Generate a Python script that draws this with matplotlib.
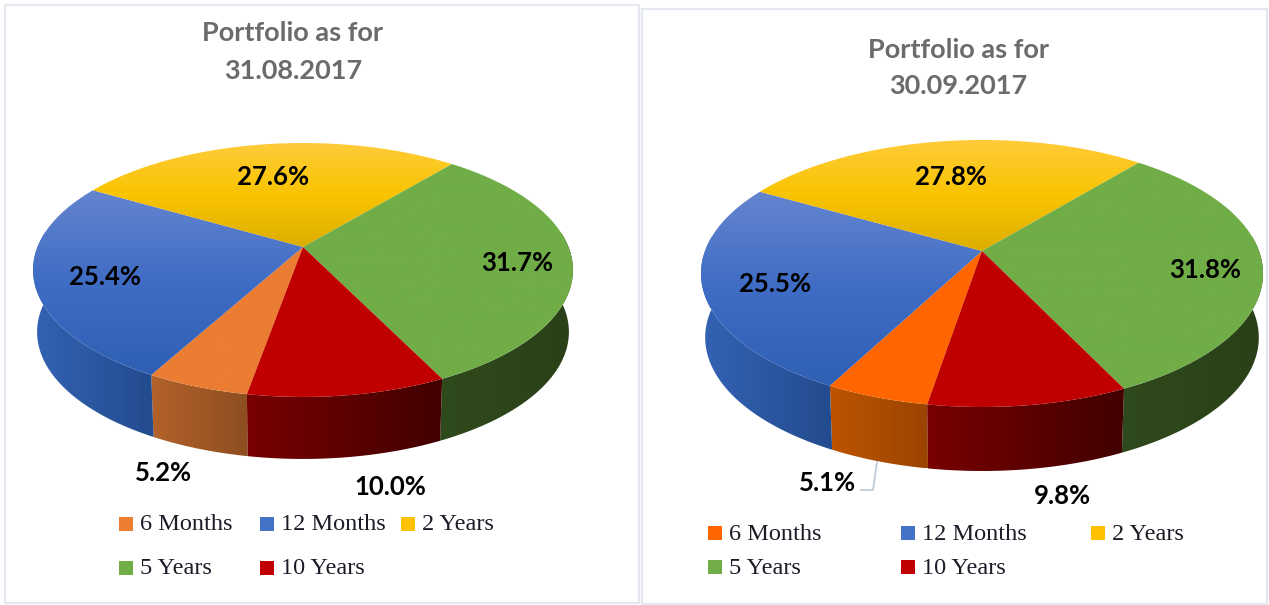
import numpy as np
from matplotlib import pyplot as plt
from matplotlib.patches import Polygon, Rectangle
from matplotlib.colors import LinearSegmentedColormap

categories = ['6 Months', '12 Months', '2 Years', '5 Years', '10 Years']
values_aug = [5.2, 25.4, 27.6, 31.7, 10.0]
values_sep = [5.1, 25.5, 27.8, 31.8, 9.8]
title_aug = 'Portfolio as for\n31.08.2017'
title_sep = 'Portfolio as for\n30.09.2017'

legend_colors_aug = ['#ED7D31', '#4472C4', '#FFC000', '#70AD47', '#C00000']
legend_colors_sep = ['#FF6600', '#4472C4', '#FFC000', '#70AD47', '#C00000']

# top face gradients, top of the slice to the bottom
top_blue = ['#6485CF', '#3F6CC4', '#2F60B4']
top_yellow = ['#FFCB3A', '#F9C400', '#DDAE00']
top_green = ['#70AD47', '#70AD47']
top_red = ['#C00000', '#C00000']

# side gradients, left to right
side_blue = ['#3463B4', '#234B8E']
side_red = ['#780000', '#420000']
side_green = ['#2F4A1C', '#2A4018']

fig = plt.figure(figsize=(12.69, 6.05), dpi=100)
ax = fig.add_axes([0, 0, 1, 1])
ax.set_xlim(0, 1269)
ax.set_ylim(605, 0)
ax.axis('off')


def project(t, cx, cy, a, b, k):
    # circle seen in perspective, the far edge is smaller
    X, Y = np.cos(t), np.sin(t)
    w = 1 + k * Y
    return cx + a * X / w, cy - b * Y / w


def gradient(poly, colors, horizontal):
    cmap = LinearSegmentedColormap.from_list('g', colors)
    g = np.linspace(0, 1, 256)
    g = g.reshape(1, -1) if horizontal else g.reshape(-1, 1)
    extent = (poly[:, 0].min(), poly[:, 0].max(), poly[:, 1].max(), poly[:, 1].min())
    im = ax.imshow(g, cmap=cmap, extent=extent, aspect='auto', zorder=2, vmin=0, vmax=1)
    patch = Polygon(poly, closed=True, transform=ax.transData, fc='none', ec='none')
    ax.add_patch(patch)
    im.set_clip_path(patch)


def pie3d(values, start, cx, cy, a, b, k, depth, orange_top, orange_side):
    tops = [[orange_top] * 2, top_blue, top_yellow, top_green, top_red]
    sides = [orange_side, side_blue, None, side_green, side_red]
    total = sum(values)
    edges = np.radians(start - np.cumsum([0] + values) * 360.0 / total)
    for i in range(len(values)):
        t = np.linspace(edges[i], edges[i + 1], 200)
        if sides[i] is not None:
            front = t[np.sin(t) < 0.12]
            x1, y1 = project(front, cx, cy, a, b, k)
            x2, y2 = project(front, cx, cy + depth, a * 0.985, b, k)
            poly = np.column_stack([np.r_[x1, x2[::-1]], np.r_[y1, y2[::-1]]])
            gradient(poly, sides[i], True)
    for i in range(len(values)):
        t = np.linspace(edges[i], edges[i + 1], 200)
        x, y = project(t, cx, cy, a, b, k)
        poly = np.column_stack([np.r_[cx, x], np.r_[cy, y]])
        gradient(poly, tops[i], False)


def panel(x0, y0, x1, y1):
    ax.add_patch(Rectangle((x0, y0), x1 - x0, y1 - y0, fc='white', ec='#E4E8F0', lw=1.6, zorder=1))


def legend(colors, xs, ys, rows):
    for n, (c, name) in enumerate(zip(colors, categories)):
        col, row = rows[n]
        ax.add_patch(Rectangle((xs[col], ys[row] - 7), 14, 14, fc=c, ec='none', zorder=3))
        ax.text(xs[col] + 21, ys[row] + 1, name, family='Liberation Serif', fontsize=17.5,
                va='center', ha='left', color='#1c1c28', zorder=4)


def labels(values, pos):
    for v, (x, y) in zip(values, pos):
        ax.text(x, y, '%.1f%%' % v, family='Lato', weight='bold', fontsize=18.5,
                ha='center', va='center', color='black', zorder=5)


panel(5, 5, 639, 603)
panel(642, 9, 1267, 604)

pie3d(values_aug, 260, 303, 247, 265.5, 122.8, 0.181, 62, '#EB7D32', ['#B3622A', '#8E4E20'])
pie3d(values_sep, 260.5, 982, 251, 277, 129.7, 0.1685, 64, '#FF6600', ['#BE5400', '#9A4400'])

ax.text(293, 52, title_aug, family='Lato', weight='bold', fontsize=19.5, color='#6B6B6B',
        ha='center', va='center', linespacing=1.7, zorder=5)
ax.text(958, 68, title_sep, family='Lato', weight='bold', fontsize=19.5, color='#6B6B6B',
        ha='center', va='center', linespacing=1.6, zorder=5)

labels(values_aug, [(163, 473), (105, 277), (273, 177), (517, 263), (390, 487)])
labels(values_sep, [(828, 483), (775, 284), (951, 177), (1205, 270), (1062, 496)])
ax.plot([877, 873, 861], [462, 490, 490], color='#BCC8D8', lw=1.2, zorder=3)

legend(legend_colors_aug, [119, 260, 401], [524, 568], [(0, 0), (1, 0), (2, 0), (0, 1), (1, 1)])
legend(legend_colors_sep, [708, 901, 1091], [533, 567], [(0, 0), (1, 0), (2, 0), (0, 1), (1, 1)])

ax.set_xlim(0, 1269)
ax.set_ylim(605, 0)
fig.savefig('out.png', dpi=100)
